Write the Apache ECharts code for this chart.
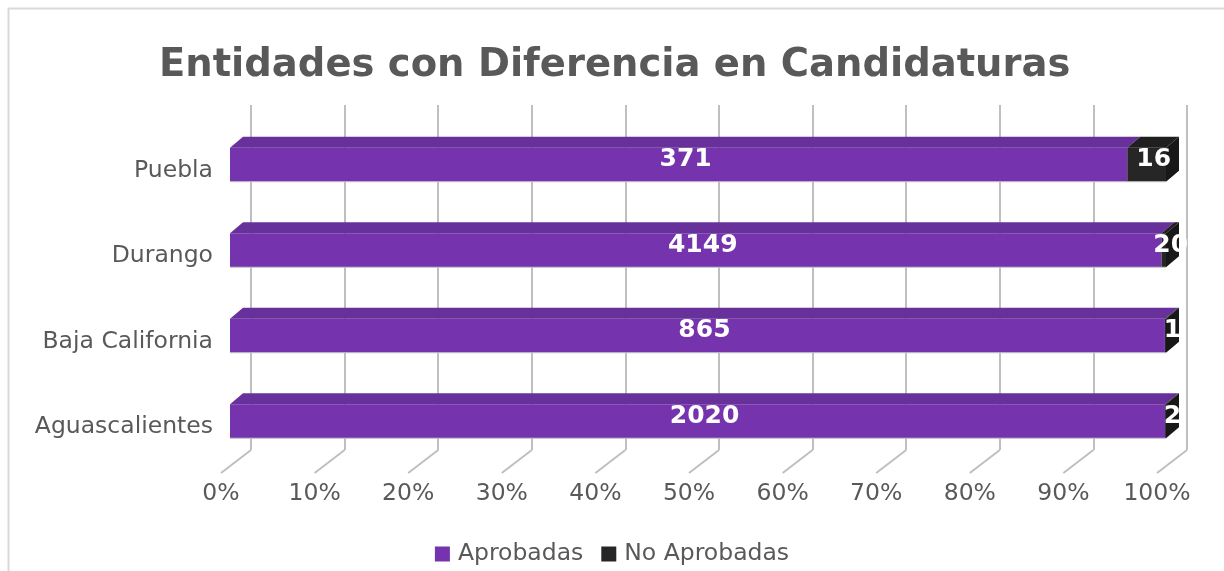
<!DOCTYPE html>
<html style="height: 100%">
<head>
<meta charset="utf-8">
<script src="https://cdn.jsdelivr.net/npm/echarts@6/dist/echarts.min.js"></script>
</head>
<body style="height: 100%; margin: 0; background: #fff;">
<div id="container" style="width: 1224px; height: 571px;"></div>
<script type="text/javascript">
var categories = ['Aguascalientes', 'Baja California', 'Durango', 'Puebla'];
var aprobadas = [2020, 865, 4149, 371];
var noAprobadas = [2, 1, 20, 16];
var tickValues = [0, 0.1, 0.2, 0.3, 0.4, 0.5, 0.6, 0.7, 0.8, 0.9, 1];

var FONT = 'DejaVu Sans';
var DEPTH_X = 13, DEPTH_Y = -11, BAR_H = 34;

// stacked shares (100% bar)
var aprobData = [], noData = [];
for (var i = 0; i < categories.length; i++) {
  var tot = aprobadas[i] + noAprobadas[i];
  var a = aprobadas[i] / tot;
  aprobData.push([i, 0, a, aprobadas[i], 0]);
  noData.push([i, a, 1, noAprobadas[i], 1]);
}

function barRenderer(front, top, side) {
  return function (params, api) {
    var cat = api.value(0);
    var p0 = api.coord([api.value(1), cat]);
    var p1 = api.coord([api.value(2), cat]);
    var isLast = api.value(4) === 1;
    var x0 = p0[0], x1 = p1[0];
    var yT = p0[1] - BAR_H / 2, yB = p0[1] + BAR_H / 2;
    var children = [
      { type: 'rect', shape: { x: x0, y: yT, width: x1 - x0, height: BAR_H }, style: { fill: front } },
      { type: 'polygon', shape: { points: [[x0, yT], [x0 + DEPTH_X, yT + DEPTH_Y], [x1 + DEPTH_X, yT + DEPTH_Y], [x1, yT]] }, style: { fill: top } },
      { type: 'line', shape: { x1: x0, y1: yB, x2: x1, y2: yB }, style: { stroke: '#c8c8c8', lineWidth: 1 } }
    ];
    if (isLast) {
      children.push({ type: 'polygon', shape: { points: [[x1, yT], [x1 + DEPTH_X, yT + DEPTH_Y], [x1 + DEPTH_X, yB + DEPTH_Y], [x1, yB]] }, style: { fill: side } });
    }
    children.push({
      type: 'text',
      z2: 10,
      style: {
        x: (x0 + x1) / 2 + 7, y: p0[1] - 5,
        text: String(api.value(3)),
        fill: '#fff', font: 'bold 25px "' + FONT + '"',
        align: 'center', verticalAlign: 'middle'
      }
    });
    return { type: 'group', children: children };
  };
}

function floorRenderer(params, api) {
  var p = api.coord([api.value(0), 0]);
  return {
    type: 'line',
    shape: { x1: p[0], y1: p[1], x2: p[0] - 30, y2: p[1] + 23 },
    style: { stroke: '#bfbfbf', lineWidth: 2 }
  };
}

var myChart = echarts.init(document.getElementById('container'));
var option = {
  animation: false,
  textStyle: { fontFamily: FONT },
  title: {
    text: 'Entidades con Diferencia en Candidaturas',
    left: 154, top: 41,
    textStyle: { fontSize: 38.5, fontWeight: 'bold', color: '#595959', fontFamily: FONT }
  },
  legend: {
    bottom: 0, left: 'center',
    icon: 'rect', itemWidth: 15, itemHeight: 15, itemGap: 18,
    textStyle: { fontSize: 23.5, color: '#595959', fontFamily: FONT, padding: [0, 0, 0, 3] },
    data: ['Aprobadas', 'No Aprobadas']
  },
  graphic: [{
    type: 'rect', left: 6, top: 6,
    shape: { width: 1217, height: 620 },
    style: { fill: 'none', stroke: '#d9d9d9', lineWidth: 2 },
    silent: true
  }],
  grid: [
    { left: 251, right: 37, top: 105, bottom: 121 },
    { left: 230, right: 58, top: 122, bottom: 107 },
    { left: 221, right: 67, top: 105, bottom: 99 },
    { left: 230, right: 58, top: 128, bottom: 101 }
  ],
  xAxis: [
    { gridIndex: 0, type: 'value', min: 0, max: 1, interval: 0.1,
      axisLine: { show: false }, axisTick: { show: false }, axisLabel: { show: false },
      splitLine: { show: true, lineStyle: { color: '#bfbfbf', width: 2 } } },
    { gridIndex: 1, type: 'value', min: 0, max: 1, show: false },
    { gridIndex: 2, type: 'value', min: 0, max: 1, interval: 0.1,
      axisLine: { show: false }, axisTick: { show: false }, splitLine: { show: false },
      axisLabel: { margin: 10, fontSize: 23.5, color: '#595959', fontFamily: FONT,
        formatter: function (v) { return Math.round(v * 100) + '%'; } } },
    { gridIndex: 3, type: 'value', min: 0, max: 1, show: false }
  ],
  yAxis: [
    { gridIndex: 0, type: 'value', min: 0, max: 1, show: false },
    { gridIndex: 1, type: 'category', data: categories, show: false },
    { gridIndex: 2, type: 'value', show: false },
    { gridIndex: 3, type: 'category', data: categories,
      axisLine: { show: false }, axisTick: { show: false }, splitLine: { show: false },
      axisLabel: { margin: 17, fontSize: 23.5, color: '#595959', fontFamily: FONT } }
  ],
  series: [
    { type: 'custom', name: 'floor', xAxisIndex: 0, yAxisIndex: 0, renderItem: floorRenderer,
      data: tickValues.map(function (v) { return [v]; }), silent: true, z: 1 },
    { type: 'custom', name: 'Aprobadas', xAxisIndex: 1, yAxisIndex: 1,
      itemStyle: { color: '#7633AE' },
      renderItem: barRenderer('#7633AE', '#68309A', '#5a2887'),
      encode: { y: 0, x: [1, 2] }, data: aprobData, z: 3 },
    { type: 'custom', name: 'No Aprobadas', xAxisIndex: 1, yAxisIndex: 1,
      itemStyle: { color: '#262626' },
      renderItem: barRenderer('#262626', '#1f1f1f', '#181818'),
      encode: { y: 0, x: [1, 2] }, data: noData, z: 4 }
  ]
};
myChart.setOption(option);
</script>
</body>
</html>
